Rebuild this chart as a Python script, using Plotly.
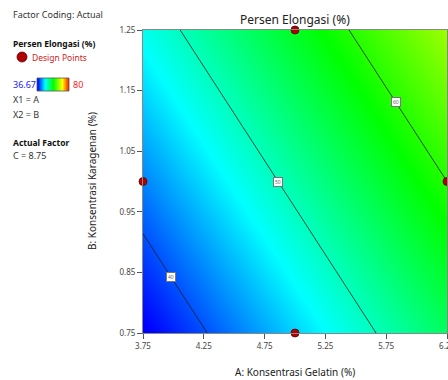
import plotly.graph_objects as go

# Factor A (x) and B (y) grid values and estimated response (Persen Elongasi, %)
x_vals = [3.75, 4.375, 5.0, 5.625, 6.25]
y_vals = [0.75, 0.875, 1.0, 1.125, 1.25]
z_vals = [
    [36.2, 40.7, 45.2, 49.7, 54.2],
    [39.1, 43.6, 48.1, 52.6, 57.1],
    [42.0, 46.5, 51.0, 55.5, 60.0],
    [44.9, 49.4, 53.9, 58.4, 62.9],
    [47.8, 52.3, 56.8, 61.3, 65.8],
]
design_x = [5.0, 3.75, 6.25, 5.0]
design_y = [1.25, 1.0, 1.0, 0.75]
contour_levels = [40, 50, 60]
label_y = [0.842, 1.0, 1.131]   # where along B each contour label sits
z_min, z_max = 36.67, 80
x_ticks = [3.75, 4.25, 4.75, 5.25, 5.75, 6.25]
y_ticks = [0.75, 0.85, 0.95, 1.05, 1.15, 1.25]

W, H = 448, 380
cscale = [[0, "rgb(0,0,255)"], [0.24, "rgb(0,255,255)"], [0.5, "rgb(0,255,0)"],
          [0.78, "rgb(255,255,0)"], [1, "rgb(255,0,0)"]]

def px(x):
    return x / W

def py(y):
    return 1 - y / H

FONT = "Noto Sans"
fig = go.Figure()

fig.add_trace(go.Heatmap(x=x_vals, y=y_vals, z=z_vals, zmin=z_min, zmax=z_max,
                         colorscale=cscale, zsmooth="best", showscale=False,
                         hoverinfo="skip"))
fig.add_trace(go.Contour(x=x_vals, y=y_vals, z=z_vals, showscale=False,
                         contours=dict(coloring="none", start=contour_levels[0],
                                       end=contour_levels[-1],
                                       size=contour_levels[1] - contour_levels[0],
                                       showlabels=False),
                         line=dict(color="#1a1a1a", width=0.8), hoverinfo="skip"))
fig.add_trace(go.Scatter(x=design_x, y=design_y, mode="markers", cliponaxis=False,
                         marker=dict(size=8, color="#b00000",
                                     line=dict(color="#600000", width=0.8)),
                         showlegend=False))

# legend colour bar as small heatmap
fig.add_trace(go.Heatmap(x=[0, 1], y=[0], z=[[z_min, z_max]], zmin=z_min, zmax=z_max,
                         colorscale=cscale, zsmooth="best", showscale=False,
                         xaxis="x2", yaxis="y2", hoverinfo="skip"))


def level_x(level, yv):
    # interpolate grid row at yv, then find x where z == level
    for j in range(len(y_vals) - 1):
        if y_vals[j] <= yv <= y_vals[j + 1]:
            t = (yv - y_vals[j]) / (y_vals[j + 1] - y_vals[j])
            row = [z_vals[j][i] * (1 - t) + z_vals[j + 1][i] * t for i in range(len(x_vals))]
            for i in range(len(x_vals) - 1):
                a, b = row[i], row[i + 1]
                if min(a, b) <= level <= max(a, b):
                    s = (level - a) / (b - a)
                    return x_vals[i] + s * (x_vals[i + 1] - x_vals[i])
    return None

for lev, ly in zip(contour_levels, label_y):
    lx = level_x(lev, ly)
    if lx is not None:
        fig.add_annotation(x=lx, y=ly, xref="x", yref="y", text=str(lev), showarrow=False,
                           font=dict(size=5, color="#666", family=FONT),
                           bgcolor="white", bordercolor="#777", borderwidth=1, borderpad=1)

axis_common = dict(showgrid=False, zeroline=False, ticks="outside", ticklen=5,
                   tickcolor="#555", linecolor="#888", linewidth=1, mirror=True,
                   showline=True, automargin=False, ticklabeloverflow="allow",
                   tickfont=dict(size=8, color="#444", family=FONT))

fig.update_layout(
    width=W, height=H, margin=dict(l=0, r=0, t=0, b=0, autoexpand=False),
    paper_bgcolor="white", plot_bgcolor="white", showlegend=False,
    xaxis=dict(domain=[143 / W, 447 / W], range=[3.75, 6.25], tickvals=x_ticks,
               ticktext=["3.75", "4.25", "4.75", "5.25", "5.75", "6.25"], **axis_common),
    yaxis=dict(domain=[47 / H, 350 / H], range=[0.75, 1.25], tickvals=y_ticks,
               ticktext=["0.75", "0.85", "0.95", "1.05", "1.15", "1.25"], **axis_common),
    xaxis2=dict(domain=[37 / W, 69 / W], range=[0, 1], visible=False, anchor="y2",
                automargin=False),
    yaxis2=dict(domain=[(H - 91) / H, (H - 78) / H], range=[-0.5, 0.5], visible=False,
                anchor="x2", automargin=False),
)

fig.add_shape(type="rect", xref="paper", yref="paper", x0=px(37), x1=px(69),
              y0=py(91), y1=py(78), line=dict(color="#555", width=0.8))
fig.add_shape(type="circle", xref="paper", yref="paper", x0=px(17), x1=px(27),
              y0=py(62), y1=py(52), fillcolor="#b00000",
              line=dict(color="#600000", width=0.8))

def ann(text, x, y, size=9, color="#333", bold=False, xanchor="left", angle=0):
    if bold:
        text = "<b>" + text + "</b>"
    fig.add_annotation(text=text, x=px(x), y=py(y), xref="paper", yref="paper",
                       xanchor=xanchor, yanchor="middle", showarrow=False,
                       textangle=angle, borderpad=0,
                       font=dict(size=size, color=color, family=FONT))

ann("Factor Coding: Actual", 12, 14, 9)
ann("Persen Elongasi (%)", 12, 43, 8.5, "#111", bold=True)
ann("Design Points", 31, 57, 8.5, "#d02020")
ann("36.67", 12, 84, 9, "#2020ff")
ann("80", 72, 84, 9, "#ff2020")
ann("X1 = A", 12, 99, 9)
ann("X2 = B", 12, 114, 9)
ann("Actual Factor", 12, 142, 8.5, "#111", bold=True)
ann("C = 8.75", 12, 156, 9)
ann("Persen Elongasi (%)", 295, 19, 12, "#222", xanchor="center")
ann("A: Konsentrasi Gelatin (%)", 295, 372, 10, "#222", xanchor="center")
ann("B: Konsentrasi Karagenan (%)", 92, 181, 10, "#222", xanchor="center", angle=-90)

fig.write_html("out.html")
